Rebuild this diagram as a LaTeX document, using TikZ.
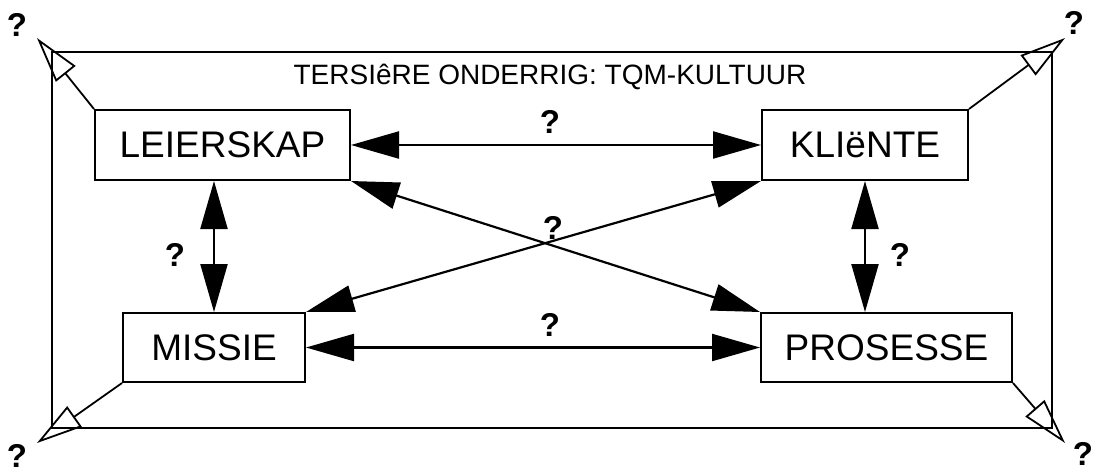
\documentclass[tikz,border=0pt]{standalone}
\usepackage{fontspec}
\setmainfont{Liberation Sans}
\usetikzlibrary{arrows.meta, positioning, calc}
\tikzset{
  blk/.style ={draw, rectangle, line width=1pt, inner sep=0pt, font=\fontsize{18.5}{20}\selectfont},
  both/.style={{Triangle[length=24pt, width=13.5pt]}-{Triangle[length=24pt, width=13.5pt]}, line width=1.1pt},
  outarr/.style ={-{Triangle[open, length=23pt, width=12.5pt]}, line width=0.9pt},
  qm/.style  ={font=\fontsize{16.5}{18}\selectfont\bfseries, inner sep=0pt},
  ttl/.style ={font=\fontsize{14}{16}\selectfont},
}

\begin{document}
\begin{tikzpicture}[x=0.5pt, y=-0.5pt]
  \useasboundingbox (0,0) rectangle (1097,473);
  % frame
  \draw[line width=1pt] (52,52) rectangle (1052,428);
  \node[ttl] (title) at (550,77) {TERSIêRE ONDERRIG: TQM-KULTUUR};

  \node[blk, minimum width=127.5pt, minimum height=35pt] (lei) at (222.5,145) {LEIERSKAP};
  \node[blk, minimum width=103pt, minimum height=35pt] (kli) at (865,145) {KLIëNTE};
  \node[blk, minimum width=91pt, minimum height=34.5pt] (mis) at (214,347.5) {MISSIE};
  \node[blk, minimum width=125.5pt, minimum height=34.5pt] (pro) at (886.5,347.5) {PROSESSE};

  \draw[both] (lei) -- (kli);
  \draw[both] (mis) -- (pro);
  \draw[both] (lei.south east) -- (pro.north west);
  \draw[both] (mis.north east) -- (kli.south west);
  \draw[both] (mis.north |- lei.south) -- (mis.north);
  \draw[both] (kli.south) -- (kli.south |- pro.north);

  \node[qm] (qa) at (550,122) {?};
  \node[qm] (qb) at (553,228) {?};
  \node[qm] (qc) at (550,325) {?};
  \node[qm] (qd) at (175,255) {?};
  \node[qm] (qe) at (900,255) {?};

  % questions outside the frame
  \coordinate (tl) at (37,38);
  \coordinate (tr) at (1065,38);
  \coordinate (bl) at (37,443);
  \coordinate (br) at (1065,443);
  \draw[outarr] (lei.north west) -- (tl);
  \draw[outarr] (kli.north east) -- (tr);
  \draw[outarr] (mis.south west) -- (bl);
  \draw[outarr] (pro.south east) -- (br);
  \node[qm] (q1) at (17,25) {?};
  \node[qm] (q2) at (1074,23) {?};
  \node[qm] (q3) at (17,456) {?};
  \node[qm] (q4) at (1083,454) {?};
\end{tikzpicture}
\end{document}
